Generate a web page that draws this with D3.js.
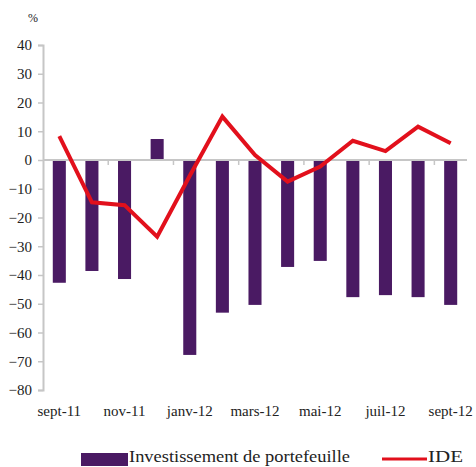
<!DOCTYPE html>
<html><head><meta charset="utf-8">
<script src="https://cdn.jsdelivr.net/npm/d3@7"></script>
<style>
html,body{margin:0;padding:0;background:#fff;}
svg{display:block;}
</style></head>
<body>
<svg id="chart" width="476" height="467"></svg>
<script>
const categories = ["sept-11","oct-11","nov-11","déc-11","janv-12","févr-12","mars-12","avr-12","mai-12","juin-12","juil-12","août-12","sept-12"];
const portefeuille = [-42.7,-38.6,-41.4,7.3,-67.8,-53.1,-50.4,-37.2,-35.1,-47.7,-47.0,-47.7,-50.4];
const ide = [8.3,-14.7,-15.7,-26.7,-5.5,15.1,1.7,-7.5,-2.3,6.7,3.1,11.6,5.8];
const yTicks = [40,30,20,10,0,-10,-20,-30,-40,-50,-60,-70,-80];
const xLabels = ["sept-11","nov-11","janv-12","mars-12","mai-12","juil-12","sept-12"];
const seriesNames = ["Investissement de portefeuille","IDE"];

(function(){
const FONT = "Liberation Serif";
const svg = d3.select("#chart");
const mLeft = 43, mRight = 467, mTop = 45, mBottom = 390;
const purple = "#4a1a63", red = "#e2101c", axisCol = "#c6c6c6", txt = "#222";

const x = d3.scaleBand().domain(categories).range([mLeft, mRight]).paddingInner(0.6).paddingOuter(0.3);
const y = d3.scaleLinear().domain([-80, 40]).range([mBottom, mTop]);

// bars
svg.append("g").selectAll("rect").data(portefeuille).join("rect")
  .attr("x", (d,i) => x(categories[i]))
  .attr("width", x.bandwidth())
  .attr("y", d => y(Math.max(0,d)))
  .attr("height", d => Math.abs(y(d) - y(0)))
  .attr("fill", purple);

// y axis
const yAxis = svg.append("g").attr("transform", `translate(${mLeft},0)`)
  .call(d3.axisLeft(y).tickValues(yTicks).tickSize(5).tickPadding(6).tickFormat(d3.format("d")));
yAxis.attr("font-family", FONT);
yAxis.select(".domain").attr("stroke", axisCol).attr("stroke-width", 2);
yAxis.selectAll(".tick line").attr("stroke", axisCol).attr("stroke-width", 1.5);
yAxis.selectAll(".tick text").attr("font-size", 15).attr("fill", txt)
  .attr("font-family", FONT);

// x axis line at zero
const step = x.step();
svg.append("line").attr("x1", mLeft).attr("x2", mRight).attr("y1", y(0)).attr("y2", y(0))
  .attr("stroke", axisCol).attr("stroke-width", 2);
const tickIdx = d3.range(2, categories.length, 2);
svg.append("g").selectAll("line").data(tickIdx).join("line")
  .attr("x1", k => mLeft + k*step).attr("x2", k => mLeft + k*step)
  .attr("y1", y(0)).attr("y2", y(0)+5)
  .attr("stroke", axisCol).attr("stroke-width", 1.5);

// x labels
svg.append("g").selectAll("text").data(xLabels).join("text")
  .attr("x", d => x(d) + x.bandwidth()/2)
  .attr("y", 416)
  .attr("text-anchor", "middle")
  .attr("font-family", FONT)
  .attr("font-size", 15).attr("fill", txt)
  .text(d => d);

// line
const line = d3.line().x((d,i) => x(categories[i]) + x.bandwidth()/2).y(d => y(d));
svg.append("path").datum(ide).attr("d", line)
  .attr("fill", "none").attr("stroke", red).attr("stroke-width", 4).attr("stroke-linejoin", "miter");

// unit
svg.append("text").attr("x", 33).attr("y", 22).attr("text-anchor", "middle")
  .attr("font-family", FONT).attr("font-size", 12).attr("fill", txt).text("%");

// legend
svg.append("rect").attr("x", 81).attr("y", 453).attr("width", 47).attr("height", 13).attr("fill", purple);
svg.append("text").attr("x", 129).attr("y", 462).attr("font-family", FONT).attr("font-size", 17).attr("fill", txt)
  .attr("textLength", 221).attr("lengthAdjust", "spacingAndGlyphs").text(seriesNames[0]);
svg.append("line").attr("x1", 382).attr("x2", 427).attr("y1", 459).attr("y2", 459)
  .attr("stroke", red).attr("stroke-width", 3);
svg.append("text").attr("x", 428).attr("y", 462).attr("font-family", FONT).attr("font-size", 17).attr("fill", txt)
  .attr("textLength", 35).attr("lengthAdjust", "spacingAndGlyphs").text(seriesNames[1]);
})();
</script>
</body></html>
